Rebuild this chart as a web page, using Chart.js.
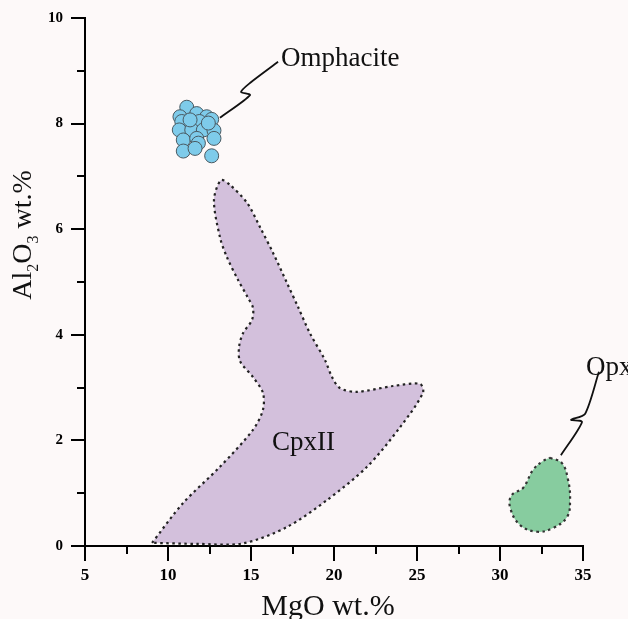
<!DOCTYPE html>
<html>
<head>
<meta charset="utf-8">
<title>MgO vs Al2O3</title>
<script src="https://cdn.jsdelivr.net/npm/chart.js@4.4.1/dist/chart.umd.min.js"></script>
<style>
  html, body { margin: 0; padding: 0; background: #fdf9f9; }
  canvas { display: block; }
</style>
</head>
<body>
<canvas id="chart" width="628" height="619"></canvas>
<script>
// ===== 軸刻度 =====
const xMajorTicks = [5, 10, 15, 20, 25, 30, 35];
const xMinorTicks = [7.5, 12.5, 17.5, 22.5, 27.5, 32.5];
const yMajorTicks = [0, 2, 4, 6, 8, 10];
const yMinorTicks = [1, 3, 5, 7, 9];

// ===== Omphacite 分析點 =====
const omphMgO   = [11.13, 10.72, 11.73, 12.33, 10.83, 11.89, 12.63, 10.68, 11.43, 12.13,
                   12.77, 10.92, 11.73, 12.77, 11.83, 10.92, 11.63, 12.63, 12.43, 11.33];
const omphAl2O3 = [8.31, 8.13, 8.19, 8.13, 8.04, 8.04, 8.08, 7.88, 7.88, 7.88,
                   7.87, 7.69, 7.72, 7.72, 7.63, 7.48, 7.53, 7.39, 8.01, 8.07];

// ===== CpxII 範圍（封閉輪廓）=====
const cpxMgO   = [9.04, 10.90, 13.13, 15.12, 15.72, 15.72, 15.12, 14.34, 14.28, 14.52,
                  15.06, 15.12, 14.82, 14.22, 13.55, 13.13, 12.77, 13.19, 13.73, 14.76,
                  15.54, 16.33, 17.17, 17.83, 18.55, 19.46, 19.88, 20.36, 21.39, 23.55,
                  25.18, 25.36, 23.98, 21.99, 19.58, 17.17, 14.52, 11.80, 9.04];
const cpxAl2O3 = [0.06, 0.81, 1.50, 2.20, 2.58, 2.90, 3.20, 3.50, 3.77, 4.03,
                  4.28, 4.51, 4.70, 5.04, 5.47, 5.85, 6.55, 6.93, 6.84, 6.50,
                  6.04, 5.55, 4.98, 4.53, 4.03, 3.52, 3.20, 2.99, 2.92, 3.03,
                  3.07, 2.90, 2.25, 1.50, 0.87, 0.36, 0.05, 0.04, 0.06];

// ===== Opx 範圍 =====
const opxMgO   = [33.01, 33.73, 34.10, 34.22, 34.04, 33.19, 32.23, 31.20, 30.60, 30.72,
                  31.39, 31.99, 32.59, 33.01];
const opxAl2O3 = [1.67, 1.57, 1.25, 0.87, 0.55, 0.34, 0.27, 0.40, 0.74, 0.97,
                  1.10, 1.44, 1.61, 1.67];

// ===== 標註引線 =====
const omphLeadMgO   = [13.13, 14.94, 14.40, 14.94, 16.63];
const omphLeadAl2O3 = [8.11, 8.54, 8.60, 8.77, 9.17];
const opxLeadMgO    = [33.67, 34.94, 34.28, 35.12, 35.96];
const opxLeadAl2O3  = [1.72, 2.35, 2.39, 2.50, 3.30];

// ===== 文字標籤 =====
const labelText = ['Omphacite', 'CpxII', 'Opx'];
const labelMgO  = [16.81, 16.27, 35.18];
const labelAl2O3 = [9.09, 1.82, 3.24];

const toPts = (xs, ys) => xs.map((x, i) => ({ x: x, y: ys[i] }));
const SERIF = '"Liberation Serif", "Times New Roman", serif';

// 背景
const bgPlugin = {
  id: 'bg',
  beforeDraw(chart) {
    const c = chart.ctx;
    c.save();
    c.fillStyle = '#fdf9f9';
    c.fillRect(0, 0, chart.width, chart.height);
    c.restore();
  }
};

// 區域名稱 + 軸標題（含下標）
const textPlugin = {
  id: 'texts',
  afterDatasetsDraw(chart) {
    const c = chart.ctx;
    const sx = chart.scales.x, sy = chart.scales.y;
    c.save();
    c.fillStyle = '#111';
    c.textBaseline = 'alphabetic';
    c.textAlign = 'left';
    c.font = '27px ' + SERIF;
    labelText.forEach((t, i) => {
      c.fillText(t, sx.getPixelForValue(labelMgO[i]), sy.getPixelForValue(labelAl2O3[i]));
    });

    // x 軸標題
    c.font = '30px ' + SERIF;
    c.textAlign = 'center';
    c.fillText('MgO wt.%', 328, 615);

    // y 軸標題 Al2O3 wt.%
    const parts = [['Al', 0], ['2', 1], ['O', 0], ['3', 1], [' wt.%', 0]];
    const big = '28px ' + SERIF, small = '16px ' + SERIF;
    let total = 0;
    parts.forEach(p => { c.font = p[1] ? small : big; total += c.measureText(p[0]).width; });
    c.translate(31, 235);
    c.rotate(-Math.PI / 2);
    c.textAlign = 'left';
    let pos = -total / 2;
    parts.forEach(p => {
      c.font = p[1] ? small : big;
      c.fillText(p[0], pos, p[1] ? 7 : 0);
      pos += c.measureText(p[0]).width;
    });
    c.restore();
  }
};

const tickFont = (size) => ({ family: SERIF, weight: 'bold', size: size });

new Chart(document.getElementById('chart'), {
  type: 'scatter',
  data: {
    datasets: [
      {
        label: 'Omphacite',
        data: toPts(omphMgO, omphAl2O3),
        pointRadius: 7,
        pointBackgroundColor: '#7ecbea',
        pointBorderColor: '#4a5a62',
        pointBorderWidth: 1,
        order: 0
      },
      {
        label: 'omph lead',
        data: toPts(omphLeadMgO, omphLeadAl2O3),
        showLine: true, pointRadius: 0,
        borderColor: '#111', borderWidth: 1.8, tension: 0.25,
        clip: false, order: 1
      },
      {
        label: 'opx lead',
        data: toPts(opxLeadMgO, opxLeadAl2O3),
        showLine: true, pointRadius: 0,
        borderColor: '#111', borderWidth: 1.8, tension: 0.25,
        clip: false, order: 1
      },
      {
        label: 'CpxII',
        data: toPts(cpxMgO, cpxAl2O3),
        showLine: true, pointRadius: 0,
        fill: 'shape',
        backgroundColor: '#d3c0dc',
        borderColor: '#222', borderWidth: 2.2, borderDash: [2.5, 3.5],
        tension: 0.3, clip: false, order: 2
      },
      {
        label: 'Opx',
        data: toPts(opxMgO, opxAl2O3),
        showLine: true, pointRadius: 0,
        fill: 'shape',
        backgroundColor: '#87cc9f',
        borderColor: '#333', borderWidth: 2.2, borderDash: [2.5, 3.5],
        tension: 0.4, clip: false, order: 2
      }
    ]
  },
  options: {
    responsive: false,
    animation: false,
    devicePixelRatio: 1,
    layout: { padding: { left: 0, right: 45, top: 18, bottom: 0 } },
    plugins: { legend: { display: false }, tooltip: { enabled: false } },
    scales: {
      x: {
        type: 'linear', min: 5, max: 35,
        afterBuildTicks: s => { s.ticks = xMajorTicks.map(v => ({ value: v })); },
        afterFit: s => { s.height = 73; },
        grid: { drawOnChartArea: false, tickLength: 15, lineWidth: 2, color: '#000' },
        border: { color: '#000', width: 2 },
        ticks: { color: '#000', font: tickFont(17), padding: 4, autoSkip: false, maxRotation: 0 }
      },
      xMinor: {
        type: 'linear', axis: 'x', position: { y: 0 }, min: 5, max: 35,
        afterBuildTicks: s => { s.ticks = xMinorTicks.map(v => ({ value: v })); },
        grid: { drawOnChartArea: false, tickLength: 8, lineWidth: 2, color: '#000' },
        border: { display: false },
        ticks: { display: false }
      },
      y: {
        type: 'linear', min: 0, max: 10,
        afterBuildTicks: s => { s.ticks = yMajorTicks.map(v => ({ value: v })); },
        afterFit: s => { s.width = 85; },
        grid: { drawOnChartArea: false, tickLength: 14, lineWidth: 2, color: '#000' },
        border: { color: '#000', width: 2 },
        ticks: { color: '#000', font: tickFont(15), padding: 8, autoSkip: false }
      },
      yMinor: {
        type: 'linear', axis: 'y', position: { x: 5 }, min: 0, max: 10,
        afterBuildTicks: s => { s.ticks = yMinorTicks.map(v => ({ value: v })); },
        grid: { drawOnChartArea: false, tickLength: 8, lineWidth: 2, color: '#000' },
        border: { display: false },
        ticks: { display: false }
      }
    }
  },
  plugins: [bgPlugin, textPlugin]
});
</script>
</body>
</html>
